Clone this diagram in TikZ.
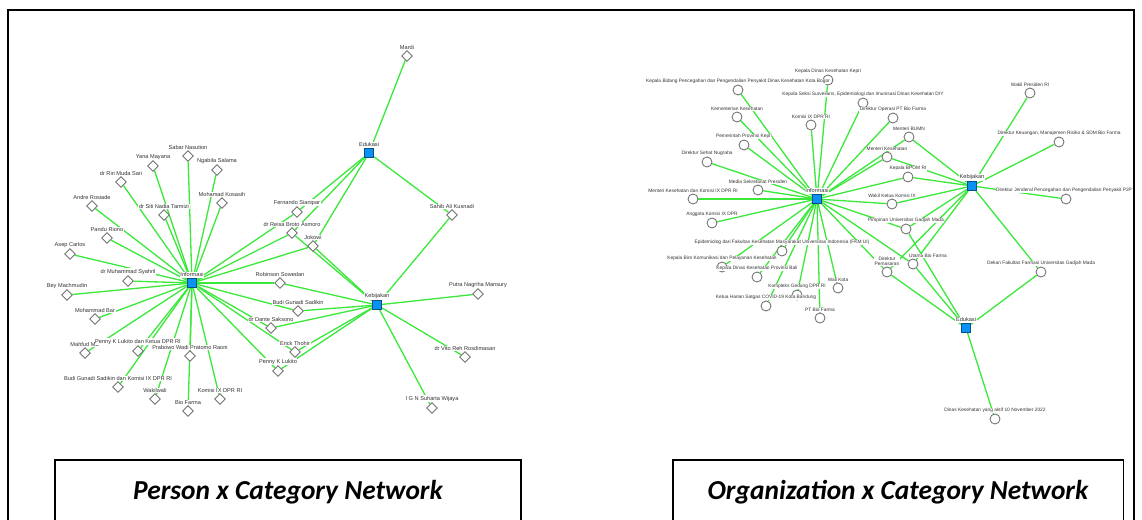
\documentclass[tikz,border=0pt]{standalone}
\usepackage{fontspec}
\setmainfont{Liberation Sans}
\newfontfamily\capfont{Carlito}
\usetikzlibrary{shapes.geometric}
\definecolor{netgreen}{RGB}{60,232,60}
\definecolor{hubblue}{RGB}{10,145,245}
\pgfdeclarelayer{edges}
\pgfsetlayers{edges,main}

\begin{document}
\begin{tikzpicture}[x=0.02cm, y=-0.02cm,
    hub/.style={rectangle, minimum size=0.19cm, inner sep=0pt, draw=hubblue!55!black, fill=hubblue, line width=0.4pt},
    person/.style={diamond, minimum size=0.22cm, inner sep=0pt, draw=black!55, fill=white, line width=0.5pt},
    org/.style={circle, minimum size=0.2cm, inner sep=0pt, draw=black!55, fill=white, line width=0.5pt},
    tag/.style={font=\fontsize{3.2}{3.7}\selectfont, text=black!80, fill=white, inner sep=0.3pt, align=center},
    every label/.style={tag},
    olabel/.style={label={[font=\fontsize{2.75}{3.2}\selectfont]above:{#1}}},
    link/.style={draw=netgreen, line width=0.75pt},
    caption/.style={draw, line width=1.1pt, minimum height=1.28cm,
      font=\capfont\bfseries\itshape\fontsize{15.6}{18}\selectfont}
  ]
    \useasboundingbox (0,0) rectangle (1142,520);
    \clip (0,0) rectangle (1142,520);
    \draw[line width=1.1pt] (8,540) |- (1134,10) -- (1134,540);

    % Person network -- hubs
    \node[hub, label=above:Informasi] (info) at (192,283) {};
    \node[hub, label=above:Edukasi] (edu) at (369,153) {};
    \node[hub, label=above:Kebijakan] (keb) at (377,305) {};

    % Person network -- people
    \node[person, label=above:Sabar Nasution] (p1) at (188,156) {};
    \node[person, label=above:Yana Mayana] (p2) at (153,166) {};
    \node[person, label=above:Ngabila Salama] (p3) at (217,170) {};
    \node[person, label=above:dr Riri Muda Sari] (p4) at (121,182) {};
    \node[person, label=above:Andre Rosiade] (p5) at (92,206) {};
    \node[person, label=above:dr Siti Nadia Tarmizi] (p6) at (164,215) {};
    \node[person, label=above:Mohamad Kosasih] (p7) at (222,203) {};
    \node[person, label=above:Pandu Riono] (p8) at (107,238) {};
    \node[person, label=above:Asep Carlos] (p9) at (70,254) {};
    \node[person, label=above:dr Muhammad Syahril] (p10) at (128,281) {};
    \node[person, label=above:Bey Machmudin] (p11) at (67,295) {};
    \node[person, label=above:Mohammad Bar] (p12) at (95,319) {};
    \node[person, label=above:Mahfud MD] (p13) at (85,353) {};
    \node[person, label=above:Penny K Lukito dan Ketua DPR RI] (p14) at (138,351) {};
    \node[person, label=above:Prabowo Wadi Pratomo Raoni] (p15) at (190,356) {};
    \node[person, label=above:Budi Gunadi Sadikin dan Komisi IX DPR RI] (p16) at (118,387) {};
    \node[person, label=above:Wakilwali] (p17) at (155,399) {};
    \node[person, label=above:Bio Farma] (p18) at (188,411) {};
    \node[person, label=above:Komisi IX DPR RI] (p19) at (220,399) {};
    \node[person, label=above:Fernando Sianipar] (p20) at (297,212) {};
    \node[person, label=above:dr Reisa Broto Asmoro] (p21) at (292,233) {};
    \node[person, label=above:Jokowi] (p22) at (313,246) {};
    \node[person, label=above:Robinson Sowedan] (p23) at (280,283) {};
    \node[person, label=above:Budi Gunadi Sadikin] (p24) at (298,311) {};
    \node[person, label=above:dr Dante Saksono] (p25) at (271,328) {};
    \node[person, label=above:Erick Thohir] (p26) at (295,352) {};
    \node[person, label=above:Penny K Lukito] (p27) at (278,371) {};
    \node[person, label=above:Mardi] (p28) at (407,56) {};
    \node[person, label=above:Sahib Ali Kusnadi] (p29) at (452,215) {};
    \node[person, label=above:Putra Nagriha Mansury] (p30) at (478,294) {};
    \node[person, label=above:dr Vito Reh Rosdimasan] (p31) at (465,357) {};
    \node[person, label=above:I G N Suharta Wijaya] (p32) at (432,408) {};

    % Organization network -- hubs
    \node[hub, label=above:Informasi] (rinfo) at (817,199) {};
    \node[hub, label=above:Kebijakan] (rkeb) at (972,186) {};
    \node[hub, label=above:Edukasi] (redu) at (966,328) {};

    % Organization network -- organizations
    \node[org, olabel=Kepala Dinas Kesehatan Kepri] (o1) at (828,80) {};
    \node[org, olabel=Kepala Bidang Pencegahan dan Pengendalian Penyakit Dinas Kesehatan Kota Bogor] (o2) at (738,90) {};
    \node[org, olabel={Kepala Seksi Surveilans, Epidemiologi dan Imunisasi Dinas Kesehatan DIY}] (o3) at (863,103) {};
    \node[org, olabel=Kementerian Kesehatan] (o4) at (737,117) {};
    \node[org, olabel=Komisi IX DPR RI] (o5) at (811,125) {};
    \node[org, olabel=Direktur Operasi PT Bio Farma] (o6) at (893,118) {};
    \node[org, olabel=Menteri BUMN] (o7) at (909,137) {};
    \node[org, olabel=Pemerintah Provinsi Kepri] (o8) at (744,145) {};
    \node[org, olabel=Menteri Kesehatan] (o9) at (887,157) {};
    \node[org, olabel=Direktur Sehat Nugraha] (o10) at (707,162) {};
    \node[org, olabel=Kepala BPOM RI] (o11) at (908,177) {};
    \node[org, olabel=Media Sekretariat Presiden] (o12) at (758,190) {};
    \node[org, olabel=Menteri Kesehatan dan Komisi IX DPR RI] (o13) at (693,199) {};
    \node[org, olabel=Wakil Ketua Komisi IX] (o14) at (892,204) {};
    \node[org, olabel=Anggota Komisi IX DPR] (o15) at (712,223) {};
    \node[org, olabel=Pimpinan Universitas Gadjah Mada] (o16) at (906,229) {};
    \node[org, olabel=Epidemiolog dari Fakultas Kesehatan Masyarakat Universitas Indonesia (FKM UI)] (o17) at (782,251) {};
    \node[org, olabel=Kepala Biro Komunikasi dan Pelayanan Kesehatan] (o18) at (722,267) {};
    \node[org, olabel=Kepala Dinas Kesehatan Provinsi Bali] (o19) at (757,277) {};
    \node[org, olabel=Wali Kota] (o20) at (838,288) {};
    \node[org, olabel=Kompleks Gedung DPR RI] (o21) at (797,295) {};
    \node[org, olabel=Ketua Harian Satgas COVID-19 Kota Bandung] (o22) at (766,306) {};
    \node[org, olabel=PT Bio Farma] (o23) at (820,318) {};
    \node[org, olabel={Direktur\\Pemasaran}] (o24) at (887,272) {};
    \node[org, label={[font=\fontsize{2.75}{3.2}\selectfont, xshift=0.3cm]above:Utama Bio Farma}] (o25) at (913,264) {};
    \node[org, olabel=Wakil Presiden RI] (o26) at (1030,93) {};
    \node[org, olabel={Direktur Keuangan, Manajemen Risiko \& SDM Bio Farma}] (o27) at (1059,142) {};
    \node[org, label={[font=\fontsize{2.75}{3.2}\selectfont, xshift=-0.04cm]above:Direktur Jenderal Pencegahan dan Pengendalian Penyakit P2P}] (o28) at (1066,199) {};
    \node[org, olabel=Dekan Fakultas Farmasi Universitas Gadjah Mada] (o29) at (1041,272) {};
    \node[org, olabel=Dinas Kesehatan yang aktif 10 November 2022] (o30) at (995,419) {};

    % Links
    \begin{pgfonlayer}{edges}
      \foreach \i in {1,...,27} \draw[link] (info) -- (p\i);
      \foreach \i in {20,21,22,28,29} \draw[link] (edu) -- (p\i);
      \foreach \i in {21,...,27,29,30,31,32} \draw[link] (keb) -- (p\i);
      \foreach \i in {1,...,25} \draw[link] (rinfo) -- (o\i);
      \foreach \i in {7,9,11,14,16,24,25,26,27,28,29} \draw[link] (rkeb) -- (o\i);
      \foreach \i in {16,24,25,29,30} \draw[link] (redu) -- (o\i);
    \end{pgfonlayer}

    % Captions
    \node[caption, minimum width=9.32cm] (cap1) at (288,492) {Person x Category Network};
    \node[caption, minimum width=9.02cm] (cap2) at (898,492) {Organization x Category Network};
  \end{tikzpicture}
\end{document}
